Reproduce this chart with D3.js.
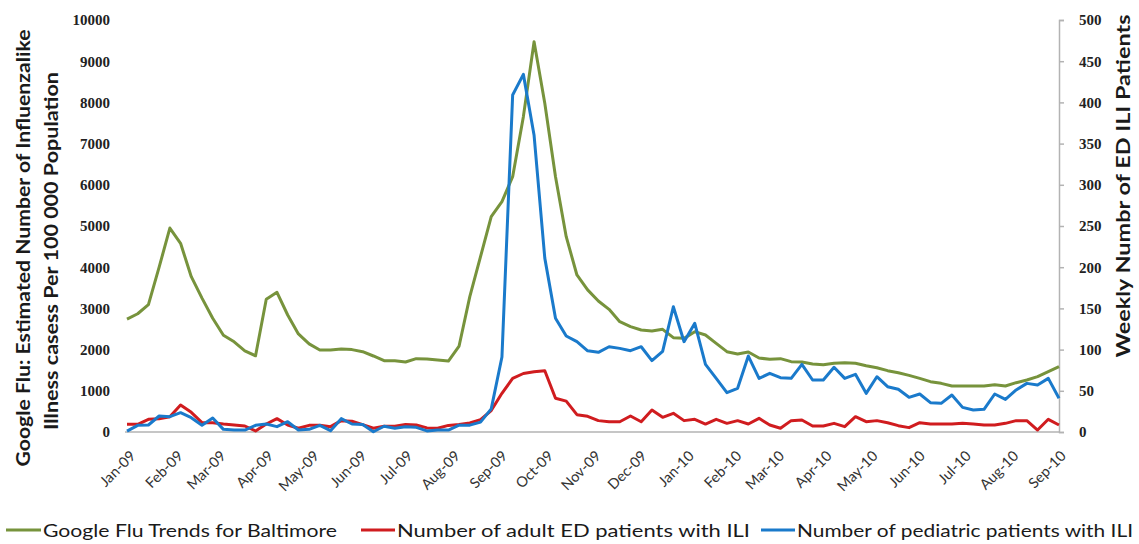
<!DOCTYPE html>
<html>
<head>
<meta charset="utf-8">
<script src="https://cdn.jsdelivr.net/npm/d3@7"></script>
<style>
  html, body { margin: 0; padding: 0; background: #ffffff; }
  svg { display: block; }
</style>
</head>
<body>
<svg id="chart" width="1139" height="544"></svg>
<script>
// ---------- DATA ----------
const weekDates = [
  "2009-01-01","2009-01-08","2009-01-15","2009-01-22","2009-01-29",
  "2009-02-05","2009-02-12","2009-02-19","2009-02-26",
  "2009-03-05","2009-03-12","2009-03-19","2009-03-26",
  "2009-04-02","2009-04-09","2009-04-16","2009-04-23","2009-04-30",
  "2009-05-07","2009-05-14","2009-05-21","2009-05-28",
  "2009-06-04","2009-06-11","2009-06-18","2009-06-25",
  "2009-07-02","2009-07-09","2009-07-16","2009-07-23","2009-07-30",
  "2009-08-06","2009-08-13","2009-08-20","2009-08-27",
  "2009-09-03","2009-09-10","2009-09-17","2009-09-24",
  "2009-10-01","2009-10-08","2009-10-15","2009-10-22","2009-10-29",
  "2009-11-05","2009-11-12","2009-11-19","2009-11-26",
  "2009-12-03","2009-12-10","2009-12-17","2009-12-24","2009-12-31",
  "2010-01-07","2010-01-14","2010-01-21","2010-01-28",
  "2010-02-04","2010-02-11","2010-02-18","2010-02-25",
  "2010-03-04","2010-03-11","2010-03-18","2010-03-25",
  "2010-04-01","2010-04-08","2010-04-15","2010-04-22","2010-04-29",
  "2010-05-06","2010-05-13","2010-05-20","2010-05-27",
  "2010-06-03","2010-06-10","2010-06-17","2010-06-24",
  "2010-07-01","2010-07-08","2010-07-15","2010-07-22","2010-07-29",
  "2010-08-05","2010-08-12","2010-08-19","2010-08-26",
  "2010-09-02"
];

// Google Flu Trends (left axis, per 100 000)
const googleFlu = [
  2740, 2870, 3090, 4000, 4950, 4580, 3770, 3250, 2760, 2350,
  2190, 1970, 1850, 3220, 3390, 2840, 2380, 2140, 1990, 1990,
  2015, 2000, 1950, 1845, 1731, 1731, 1699, 1780, 1772, 1748,
  1723, 2087, 3285, 4256, 5227, 5591, 6198, 7654, 9470, 7978,
  6197, 4741, 3811, 3450, 3180, 2977, 2678, 2557, 2476, 2451,
  2492, 2290, 2273, 2435, 2354, 2152, 1950, 1893, 1942, 1796,
  1764, 1780, 1707, 1700, 1650, 1630, 1667, 1683, 1667, 1610,
  1561, 1489, 1440, 1375, 1302, 1222, 1181, 1117, 1117, 1117,
  1117, 1149, 1117, 1197, 1262, 1343, 1465, 1586
];

// Adult ED patients with ILI (right axis)
const adultED = [
  9.3, 9.3, 15.4, 16.2, 18.6, 32.8, 23.9, 11.3, 11.3, 9.7,
  8.5, 7.3, 1.2, 9.7, 16.2, 8.5, 4.5, 8.1, 8.1, 6.5,
  13.8, 13, 9, 4.5, 7, 7, 9, 8.5, 5, 4.5,
  8, 9, 11, 15, 26, 47, 65, 71, 73, 74.4,
  41, 37.5, 21, 19, 13.8, 12.5, 12.5, 19.4, 12.5, 26.7,
  17.8, 22.7, 13.8, 15.4, 9.7, 15.4, 10.5, 13.8, 9.7, 16.6,
  8.5, 4.5, 13.8, 14.6, 7.3, 7.3, 10.5, 6.5, 18.6, 12.5,
  13.8, 11.3, 7.7, 5.3, 11.3, 9.7, 9.7, 9.7, 10.5, 9.7,
  8.5, 8.5, 10.5, 13.8, 13.8, 2.4, 15.4, 8.5
];

// Pediatric patients with ILI (right axis)
const pediatric = [
  1, 8.1, 8.5, 19.4, 18.6, 23.5, 17.4, 8.1, 17, 3.2,
  2.4, 2.4, 8.1, 9.7, 6.5, 12.5, 2.4, 3.2, 8.1, 1.6,
  16.2, 9.7, 9.2, 0.3, 7, 4.5, 6.5, 5.7, 1.3, 2.4,
  2.4, 8.3, 8.3, 12, 28, 91, 409, 434, 360, 211,
  138, 116.5, 109.6, 98.5, 96.7, 103.5, 101.5, 98.7, 103.5, 86.6,
  97.9, 152, 109.6, 131.9, 82.1, 65.1, 47.7, 53, 92.2, 65.1,
  71.2, 65.9, 65.1, 82.1, 63.1, 63, 78.5, 65.1, 70, 46.9,
  67.1, 55, 51.8, 42.1, 46.1, 35.6, 34.8, 44.9, 29.9, 26.7,
  27.5, 46.1, 39.6, 51, 59, 57, 65.1, 40.9
];

const leftTicks = [0, 1000, 2000, 3000, 4000, 5000, 6000, 7000, 8000, 9000, 10000];
const rightTicks = [0, 50, 100, 150, 200, 250, 300, 350, 400, 450, 500];

const seriesNames = [
  "Google Flu Trends for Baltimore",
  "Number of adult ED patients with ILI",
  "Number of pediatric patients with ILI"
];
const seriesColors = ["#77933c", "#d01c1f", "#1a7acb"];

const leftTitle1 = "Google Flu: Estimated Number of Influenzalike";
const leftTitle2 = "Illness casess Per 100 000 Population";
const rightTitle = "Weekly Numbr of ED ILI Patients";

// ---------- CHART ----------
const svg = d3.select("#chart");
svg.append("rect").attr("width", 1139).attr("height", 544).attr("fill", "#ffffff");

const parse = d3.timeParse("%Y-%m-%d");
const dates = weekDates.map(parse);

const plotLeft = 127, plotRight = 1059, plotTop = 20, plotBottom = 432;

const x = d3.scaleTime()
  .domain([dates[0], dates[dates.length - 1]])
  .range([plotLeft, plotRight]);
const yL = d3.scaleLinear().domain([0, 10000]).range([plotBottom, plotTop]);
const yR = d3.scaleLinear().domain([0, 500]).range([plotBottom, plotTop]);

// Left axis (labels only)
const gL = svg.append("g").attr("transform", `translate(${plotLeft},0)`)
  .call(d3.axisLeft(yL).tickValues(leftTicks).tickSize(0).tickPadding(17).tickFormat(d3.format("d")));
gL.select(".domain").remove();
gL.selectAll("text")
  .attr("font-family", "'Liberation Serif', 'DejaVu Serif', serif")
  .attr("font-weight", "bold")
  .attr("font-size", 15)
  .attr("fill", "#222");

// Right axis
const gR = svg.append("g").attr("transform", `translate(${plotRight},0)`)
  .call(d3.axisRight(yR).tickValues(rightTicks).tickSize(5).tickPadding(15).tickFormat(d3.format("d")));
gR.select(".domain").attr("stroke", "#b3b3b3").attr("stroke-width", 1.5);
gR.selectAll(".tick line").attr("stroke", "#b3b3b3").attr("stroke-width", 1.5);
gR.selectAll("text")
  .attr("font-family", "'Liberation Serif', 'DejaVu Serif', serif")
  .attr("font-weight", "bold")
  .attr("font-size", 15)
  .attr("fill", "#222");

// Bottom axis
const monthTicks = d3.timeMonth.range(new Date(2009, 0, 1), new Date(2010, 8, 2));
const gB = svg.append("g").attr("transform", `translate(0,${plotBottom})`)
  .call(d3.axisBottom(x).tickValues(monthTicks).tickSize(0).tickFormat(d3.timeFormat("%b-%y")));
gB.select(".domain").remove();
svg.append("line")
  .attr("x1", plotLeft - 2).attr("x2", plotRight)
  .attr("y1", plotBottom).attr("y2", plotBottom)
  .attr("stroke", "#b3b3b3").attr("stroke-width", 1.5);
gB.selectAll("text")
  .attr("x", 0).attr("y", 0).attr("dy", null)
  .attr("text-anchor", "end")
  .attr("dominant-baseline", "central")
  .attr("transform", "translate(5,21) rotate(-45)")
  .attr("font-family", "Lato, 'Open Sans', sans-serif")
  .attr("font-size", 14.5)
  .attr("fill", "#333");

// Lines
const lineL = d3.line().x((d, i) => x(dates[i])).y(d => yL(d));
const lineR = d3.line().x((d, i) => x(dates[i])).y(d => yR(d));

const plotG = svg.append("g");
plotG.append("path").datum(googleFlu).attr("d", lineL)
  .attr("fill", "none").attr("stroke", seriesColors[0]).attr("stroke-width", 3).attr("stroke-linejoin", "round");
plotG.append("path").datum(adultED).attr("d", lineR)
  .attr("fill", "none").attr("stroke", seriesColors[1]).attr("stroke-width", 3).attr("stroke-linejoin", "round");
plotG.append("path").datum(pediatric).attr("d", lineR)
  .attr("fill", "none").attr("stroke", seriesColors[2]).attr("stroke-width", 3).attr("stroke-linejoin", "round");

// Axis titles
const titleFont = "Lato, 'Open Sans', sans-serif";
svg.append("text")
  .attr("transform", "translate(22,248) rotate(-90)")
  .attr("text-anchor", "middle").attr("dominant-baseline", "central")
  .attr("font-family", titleFont).attr("font-weight", "bold").attr("font-size", 19)
  .attr("fill", "#1a1a1a")
  .attr("textLength", 437).attr("lengthAdjust", "spacingAndGlyphs")
  .text(leftTitle1);
svg.append("text")
  .attr("transform", "translate(50,251) rotate(-90)")
  .attr("text-anchor", "middle").attr("dominant-baseline", "central")
  .attr("font-family", titleFont).attr("font-weight", "bold").attr("font-size", 19)
  .attr("fill", "#1a1a1a")
  .attr("textLength", 358).attr("lengthAdjust", "spacingAndGlyphs")
  .text(leftTitle2);
svg.append("text")
  .attr("transform", "translate(1122,186) rotate(-90)")
  .attr("text-anchor", "middle").attr("dominant-baseline", "central")
  .attr("font-family", titleFont).attr("font-weight", "bold").attr("font-size", 19)
  .attr("fill", "#1a1a1a")
  .attr("textLength", 343).attr("lengthAdjust", "spacingAndGlyphs")
  .text(rightTitle);

// Legend
const legendItems = [
  { x0: 6, x1: 41, tx: 43, tw: 294 },
  { x0: 361, x1: 395, tx: 397, tw: 353 },
  { x0: 761, x1: 795, tx: 797, tw: 336 }
];
const legY = 530;
const leg = svg.append("g");
legendItems.forEach((it, k) => {
  leg.append("line")
    .attr("x1", it.x0).attr("x2", it.x1).attr("y1", legY).attr("y2", legY)
    .attr("stroke", seriesColors[k]).attr("stroke-width", 3);
  leg.append("text")
    .attr("x", it.tx).attr("y", legY)
    .attr("dominant-baseline", "central")
    .attr("font-family", titleFont).attr("font-size", 18)
    .attr("fill", "#1a1a1a")
    .attr("textLength", it.tw).attr("lengthAdjust", "spacingAndGlyphs")
    .text(seriesNames[k]);
});
</script>
</body>
</html>
